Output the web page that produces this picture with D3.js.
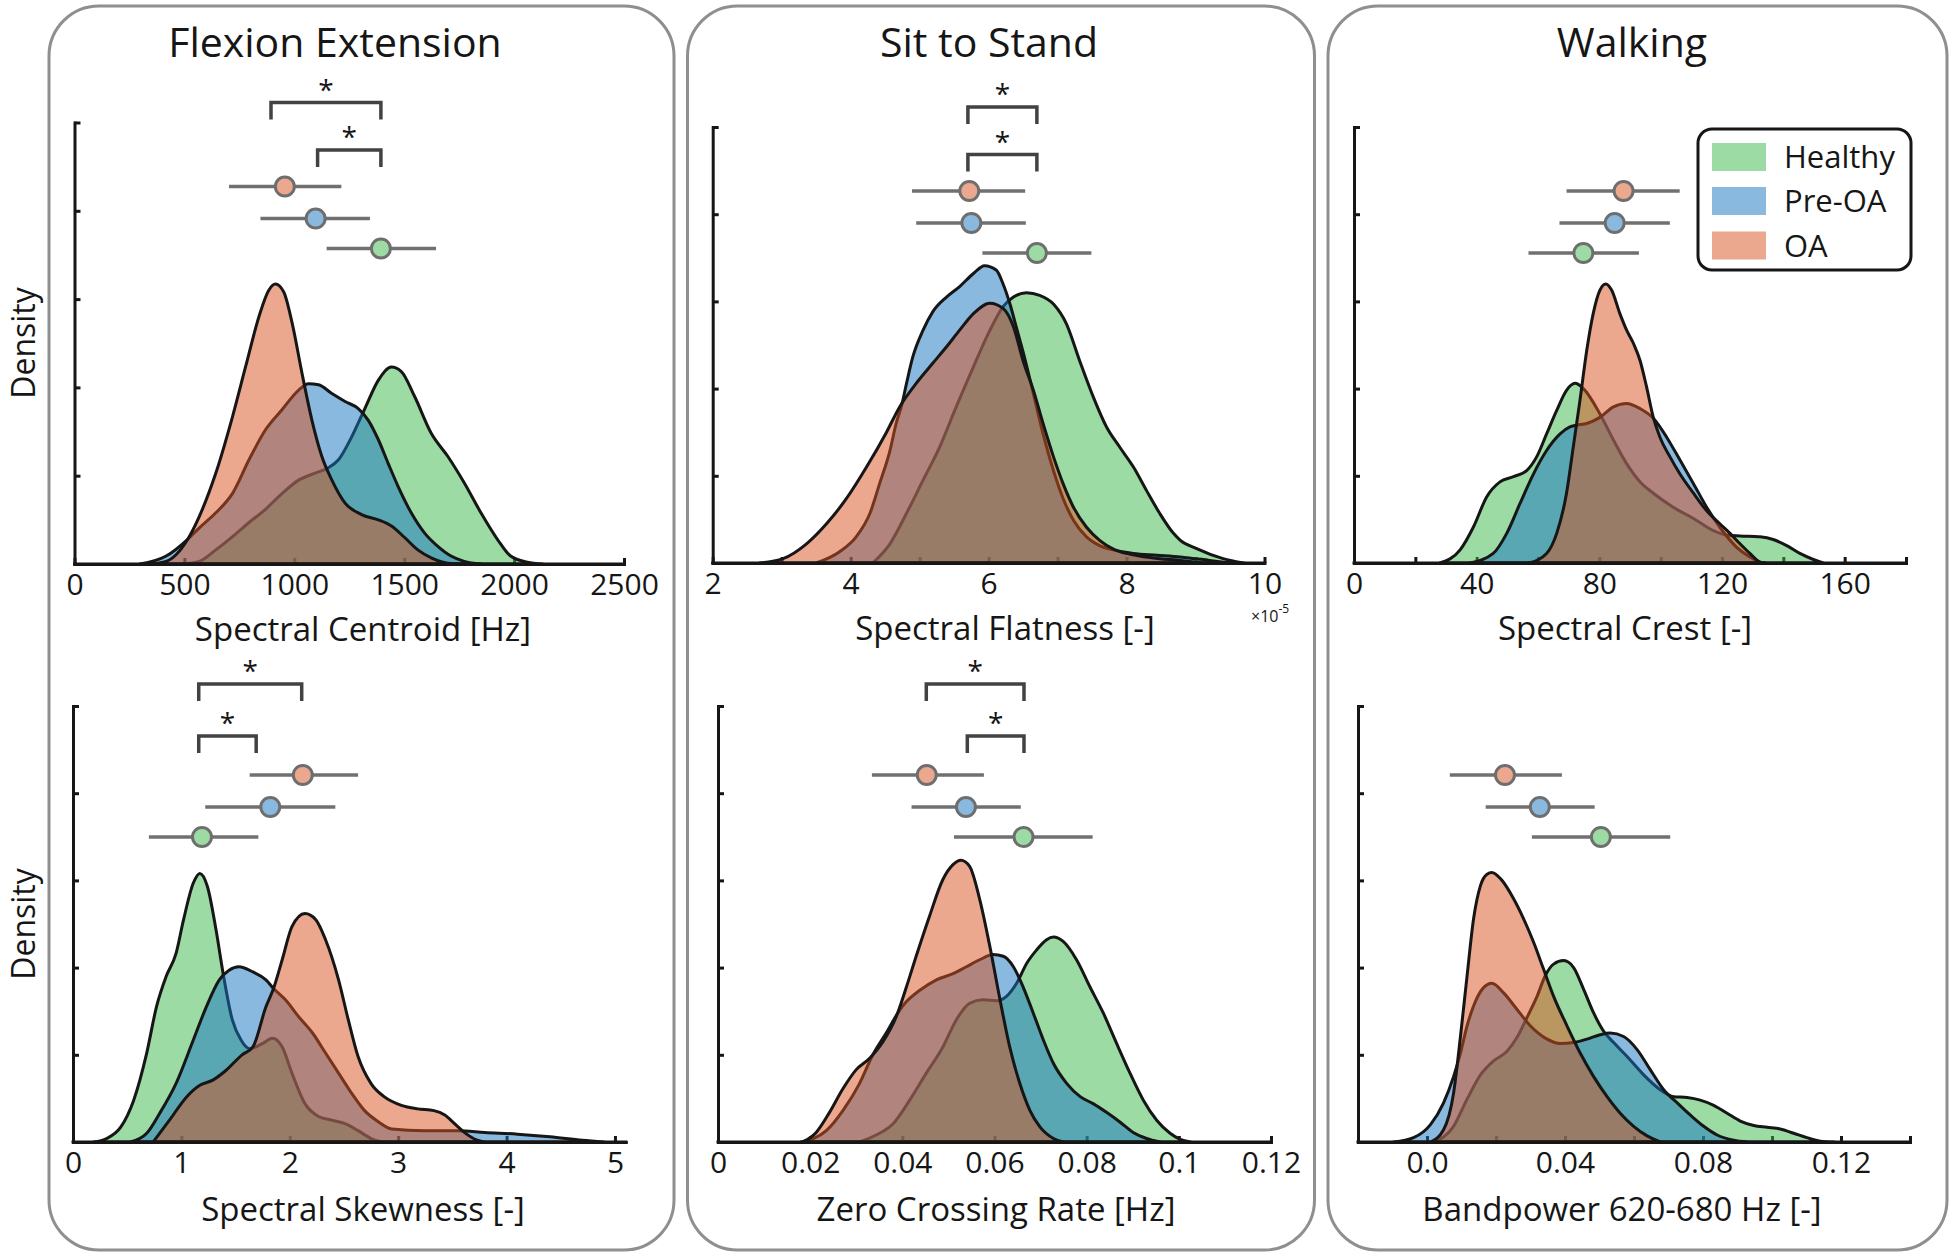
<!DOCTYPE html>
<html><head><meta charset="utf-8">
<script src="https://cdn.jsdelivr.net/npm/d3@7"></script>
<style>body{margin:0;background:#fff;} svg{display:block;font-family:"Open Sans",sans-serif;}</style>
</head><body><svg id="chart" width="1950" height="1259"></svg>
<script>
// ---------------- DATA ----------------
const groups = ["Healthy", "Pre-OA", "OA"];
const activities = ["Flexion Extension", "Sit to Stand", "Walking"];
const featureLabels = ["Spectral Centroid [Hz]", "Spectral Flatness [-]", "Spectral Crest [-]",
                       "Spectral Skewness [-]", "Zero Crossing Rate [Hz]", "Bandpower 620-680 Hz [-]"];

// x domains and ticks
const centroidDomain = [0, 2500];
const centroidTicks = [0, 500, 1000, 1500, 2000, 2500];
const centroidTickLabels = ["0", "500", "1000", "1500", "2000", "2500"];
const flatnessDomain = [2, 10];
const flatnessTicks = [2, 3, 4, 5, 6, 7, 8, 9, 10];
const flatnessTickLabels = ["2", "", "4", "", "6", "", "8", "", "10"];
const crestDomain = [0, 180];
const crestTicks = [0, 20, 40, 60, 80, 100, 120, 140, 160, 180];
const crestTickLabels = ["0", "", "40", "", "80", "", "120", "", "160", ""];
const skewDomain = [0, 5.1];
const skewTicks = [0, 1, 2, 3, 4, 5];
const skewTickLabels = ["0", "1", "2", "3", "4", "5"];
const zcrDomain = [0, 0.12];
const zcrTicks = [0, 0.02, 0.04, 0.06, 0.08, 0.1, 0.12];
const zcrTickLabels = ["0", "0.02", "0.04", "0.06", "0.08", "0.1", "0.12"];
const bandDomain = [-0.02, 0.14];
const bandTicks = [-0.02, 0, 0.02, 0.04, 0.06, 0.08, 0.1, 0.12, 0.14];
const bandTickLabels = ["", "0.0", "", "0.04", "", "0.08", "", "0.12", ""];
const densityTicks = [0, 1, 2, 3, 4, 5];

// density curves [x, density]
const centroidHealthy = [[492,0],[568,0.03],[643,0.16],[719,0.31],[794,0.47],[869,0.62],[945,0.80],[1020,0.95],[1095,1.03],[1155,1.09],[1201,1.18],[1261,1.44],[1321,1.76],[1382,2.08],[1442,2.23],[1487,2.18],[1547,1.90],[1623,1.48],[1698,1.22],[1773,0.92],[1849,0.58],[1924,0.28],[1984,0.09],[2060,0.02],[2130,0]];
const centroidPreOA = [[297,0],[417,0.09],[515,0.28],[568,0.41],[643,0.58],[719,0.80],[794,1.18],[869,1.52],[945,1.75],[1020,1.97],[1065,2.04],[1110,2.03],[1171,1.93],[1231,1.84],[1291,1.76],[1336,1.63],[1382,1.41],[1427,1.14],[1472,0.88],[1532,0.58],[1593,0.35],[1653,0.20],[1713,0.09],[1773,0.03],[1849,0]];
const centroidOA = [[342,0],[417,0.03],[515,0.28],[568,0.54],[643,1.03],[719,1.67],[779,2.24],[839,2.80],[884,3.10],[914,3.17],[952,3.08],[990,2.73],[1035,2.16],[1080,1.63],[1125,1.22],[1171,0.95],[1231,0.69],[1306,0.56],[1382,0.50],[1442,0.43],[1502,0.30],[1562,0.16],[1623,0.07],[1698,0.01],[1773,0]];

const flatnessHealthy = [[4.32,0],[4.57,0.22],[4.81,0.57],[5.05,0.95],[5.29,1.33],[5.53,1.79],[5.78,2.25],[6.02,2.67],[6.21,2.94],[6.36,3.05],[6.55,3.10],[6.74,3.07],[6.94,2.97],[7.13,2.74],[7.32,2.32],[7.52,1.90],[7.71,1.56],[7.90,1.33],[8.10,1.10],[8.29,0.83],[8.48,0.57],[8.68,0.34],[8.78,0.26],[9.0,0.17],[9.4,0.05],[9.7,0]];
const flatnessPreOA = [[3.50,0],[3.84,0.13],[4.08,0.30],[4.28,0.57],[4.42,0.91],[4.57,1.29],[4.66,1.60],[4.74,1.81],[4.81,2.06],[4.90,2.36],[5.05,2.67],[5.19,2.88],[5.39,3.05],[5.58,3.17],[5.78,3.32],[5.94,3.41],[6.11,3.36],[6.21,3.20],[6.31,2.97],[6.40,2.71],[6.50,2.42],[6.65,1.94],[6.79,1.48],[6.94,1.06],[7.08,0.74],[7.23,0.49],[7.42,0.30],[7.61,0.20],[7.81,0.15],[8.10,0.11],[8.44,0.09],[8.78,0.07],[9.2,0.03],[9.5,0]];
const flatnessOA = [[2.68,0],[3.02,0.05],[3.36,0.22],[3.65,0.45],[3.94,0.74],[4.23,1.10],[4.52,1.50],[4.71,1.79],[4.95,2.06],[5.19,2.29],[5.39,2.48],[5.58,2.67],[5.78,2.86],[6.02,2.98],[6.21,2.92],[6.36,2.71],[6.50,2.32],[6.65,1.98],[6.79,1.60],[6.94,1.22],[7.08,0.91],[7.23,0.64],[7.42,0.41],[7.61,0.26],[7.81,0.16],[8.00,0.11],[8.19,0.08],[8.48,0.05],[8.78,0.03],[9.1,0]];

const crestHealthy = [[28,0],[34.6,0.15],[38.9,0.41],[43.3,0.76],[47.6,0.93],[52.0,0.99],[56.3,1.06],[59.6,1.22],[62.8,1.48],[66.1,1.75],[69.3,1.98],[72.1,2.06],[74.8,2.00],[80.2,1.71],[84.6,1.41],[88.9,1.14],[93.3,0.93],[97.6,0.80],[104.1,0.64],[110.7,0.51],[117.2,0.37],[121.5,0.32],[125.9,0.31],[132.4,0.30],[136.7,0.27],[141.1,0.20],[145.4,0.11],[149.8,0.04],[153,0]];
const crestPreOA = [[37.8,0],[45.4,0.11],[49.8,0.34],[54.1,0.68],[58.5,1.02],[62.8,1.29],[67.2,1.48],[70.4,1.56],[72.6,1.58],[75.9,1.60],[80.2,1.67],[84.6,1.79],[88.9,1.83],[93.3,1.77],[97.6,1.66],[102.0,1.44],[106.3,1.18],[110.7,0.91],[115.0,0.64],[119.3,0.41],[124.8,0.18],[129.1,0.07],[132.4,0.01],[134,0]];
const crestOA = [[57,0],[62.8,0.11],[66.1,0.34],[69.3,0.80],[71.5,1.33],[73.7,1.87],[75.9,2.44],[78.0,2.86],[80.2,3.13],[82.1,3.20],[84.0,3.13],[86.7,2.86],[88.9,2.67],[91.1,2.52],[93.3,2.32],[95.4,2.02],[97.6,1.67],[99.8,1.44],[103.0,1.22],[106.3,1.02],[110.7,0.80],[115.0,0.60],[119.3,0.45],[122.6,0.34],[125.9,0.22],[129.1,0.11],[132.4,0.01],[134,0]];

const skewHealthy = [[0.19,0],[0.31,0.04],[0.44,0.17],[0.56,0.48],[0.68,1.02],[0.77,1.55],[0.86,1.90],[0.95,2.16],[1.02,2.55],[1.11,2.97],[1.17,3.08],[1.24,2.93],[1.32,2.43],[1.38,1.97],[1.47,1.40],[1.55,1.17],[1.63,1.07],[1.75,1.13],[1.84,1.19],[1.93,1.09],[2.02,0.79],[2.14,0.44],[2.27,0.29],[2.39,0.25],[2.51,0.21],[2.63,0.13],[2.75,0.04],[2.85,0]];
const skewPreOA = [[0.53,0],[0.68,0.10],[0.80,0.33],[0.95,0.67],[1.11,1.17],[1.23,1.55],[1.35,1.86],[1.44,1.97],[1.53,2.01],[1.66,1.95],[1.78,1.86],[1.85,1.76],[1.96,1.63],[2.08,1.44],[2.21,1.25],[2.33,1.02],[2.45,0.79],[2.57,0.56],[2.69,0.36],[2.82,0.23],[2.94,0.15],[3.24,0.13],[3.55,0.13],[3.8,0.11],[4.1,0.09],[4.4,0.06],[4.7,0.02],[4.9,0]];
const skewOA = [[0.74,0],[0.89,0.25],[1.05,0.52],[1.17,0.65],[1.29,0.71],[1.41,0.82],[1.56,1.00],[1.66,1.09],[1.78,1.55],[1.85,1.76],[1.93,2.09],[2.02,2.47],[2.14,2.62],[2.24,2.55],[2.33,2.32],[2.45,1.86],[2.54,1.40],[2.63,0.98],[2.75,0.67],[2.87,0.52],[3.03,0.42],[3.18,0.38],[3.33,0.36],[3.43,0.31],[3.52,0.21],[3.61,0.11],[3.73,0.02],[3.79,0]];

const zcrHealthy = [[0.0307,0],[0.0343,0.08],[0.0380,0.21],[0.0416,0.48],[0.0452,0.79],[0.0488,1.09],[0.0517,1.40],[0.0546,1.59],[0.0575,1.63],[0.0604,1.62],[0.0626,1.67],[0.0648,1.82],[0.0670,2.05],[0.0691,2.20],[0.0713,2.32],[0.0728,2.35],[0.0749,2.30],[0.0778,2.09],[0.0807,1.78],[0.0836,1.48],[0.0865,1.13],[0.0894,0.79],[0.0923,0.48],[0.0952,0.25],[0.0981,0.10],[0.1003,0.03],[0.1025,0]];
const zcrPreOA = [[0.0180,0],[0.0235,0.13],[0.0271,0.36],[0.0307,0.67],[0.0336,1.00],[0.0365,1.25],[0.0394,1.51],[0.0409,1.61],[0.0438,1.74],[0.0474,1.86],[0.0510,1.93],[0.0539,2.01],[0.0568,2.09],[0.0597,2.15],[0.0619,2.13],[0.0641,2.01],[0.0662,1.78],[0.0684,1.48],[0.0706,1.17],[0.0728,0.90],[0.0757,0.67],[0.0786,0.52],[0.0814,0.44],[0.0843,0.34],[0.0872,0.23],[0.0901,0.11],[0.0930,0.04],[0.0959,0]];
const zcrOA = [[0.0184,0],[0.0213,0.11],[0.0242,0.34],[0.0271,0.61],[0.0300,0.83],[0.0329,0.96],[0.0358,1.15],[0.0387,1.44],[0.0409,1.78],[0.0430,2.13],[0.0459,2.59],[0.0488,3.01],[0.0510,3.18],[0.0527,3.23],[0.0546,3.16],[0.0568,2.78],[0.0590,2.24],[0.0612,1.63],[0.0633,1.09],[0.0655,0.67],[0.0677,0.36],[0.0699,0.17],[0.0728,0.04],[0.0749,0]];

const bandHealthy = [[0.0019,0],[0.0077,0.18],[0.0116,0.49],[0.0155,0.77],[0.0193,0.93],[0.0232,1.04],[0.0261,1.20],[0.0290,1.43],[0.0319,1.67],[0.0343,1.91],[0.0367,2.04],[0.0396,2.08],[0.0425,2.00],[0.0454,1.75],[0.0483,1.48],[0.0512,1.27],[0.0541,1.14],[0.0580,0.98],[0.0628,0.77],[0.0676,0.60],[0.0715,0.52],[0.0754,0.51],[0.0792,0.48],[0.0831,0.42],[0.0870,0.33],[0.0908,0.24],[0.0947,0.19],[0.0986,0.17],[0.1024,0.15],[0.1063,0.10],[0.1101,0.05],[0.1140,0.01],[0.1180,0]];
const bandPreOA = [[-0.0097,0],[-0.0039,0.05],[0.0010,0.20],[0.0048,0.45],[0.0077,0.75],[0.0097,1.02],[0.0116,1.33],[0.0135,1.56],[0.0164,1.77],[0.0188,1.82],[0.0222,1.71],[0.0261,1.52],[0.0300,1.33],[0.0348,1.18],[0.0386,1.13],[0.0425,1.14],[0.0464,1.18],[0.0502,1.23],[0.0531,1.25],[0.0570,1.21],[0.0609,1.06],[0.0647,0.83],[0.0686,0.60],[0.0725,0.45],[0.0763,0.31],[0.0802,0.18],[0.0841,0.08],[0.0889,0.02],[0.0928,0]];
const bandOA = [[0.0010,0],[0.0048,0.14],[0.0077,0.56],[0.0097,1.21],[0.0116,1.90],[0.0135,2.56],[0.0155,2.94],[0.0174,3.07],[0.0188,3.09],[0.0213,3.02],[0.0251,2.79],[0.0280,2.56],[0.0309,2.29],[0.0338,1.98],[0.0367,1.67],[0.0406,1.33],[0.0444,1.02],[0.0483,0.75],[0.0522,0.52],[0.0560,0.33],[0.0599,0.18],[0.0638,0.07],[0.0676,0]];

// mean and mean±SD per group, order: Healthy, Pre-OA, OA
const centroidMean = [1394, 1097, 957];
const centroidRange = [[1147, 1645], [846, 1344], [703, 1214]];
const flatnessMean = [6.70, 5.75, 5.72];
const flatnessRange = [[5.91, 7.49], [4.95, 6.54], [4.89, 6.53]];
const crestMean = [74.8, 85.0, 87.9];
const crestRange = [[56.9, 92.9], [67.0, 103.0], [69.3, 106.2]];
const skewMean = [1.19, 1.82, 2.12];
const skewRange = [[0.70, 1.71], [1.22, 2.42], [1.63, 2.63]];
const zcrMean = [0.0663, 0.0538, 0.0453];
const zcrRange = [[0.0512, 0.0813], [0.0420, 0.0657], [0.0334, 0.0577]];
const bandMean = [0.0504, 0.0327, 0.0226];
const bandRange = [[0.0304, 0.0705], [0.0170, 0.0486], [0.0066, 0.0391]];

// significance brackets [from, to] (upper, lower)
const centroidBrackets = [[894, 1394], [1106, 1394]];
const flatnessBrackets = [[5.70, 6.70], [5.70, 6.70]];
const crestBrackets = [];
const skewBrackets = [[1.16, 2.11], [1.16, 1.69]];
const zcrBrackets = [[0.0452, 0.0664], [0.0541, 0.0664]];
const bandBrackets = [];

// ---------------- STYLE / LAYOUT ----------------
const fillColors = ["rgb(57,183,73)", "rgb(21,115,191)", "rgb(215,81,29)"];
const solidColors = ["#9cdba4", "#8ab9df", "#eba88e"];
const ink = "#161616";

const panels = [
  {dens:[centroidHealthy, centroidPreOA, centroidOA], domain:centroidDomain, ticks:centroidTicks, tl:centroidTickLabels, mean:centroidMean, range:centroidRange, br:centroidBrackets,
   x0:74.5, x1:624, yTop:122.5, yBase:564, row:0, labelX:363},
  {dens:[flatnessHealthy, flatnessPreOA, flatnessOA], domain:flatnessDomain, ticks:flatnessTicks, tl:flatnessTickLabels, mean:flatnessMean, range:flatnessRange, br:flatnessBrackets,
   x0:712.7, x1:1264.5, yTop:127, yBase:563, row:0, labelX:1005},
  {dens:[crestHealthy, crestPreOA, crestOA], domain:crestDomain, ticks:crestTicks, tl:crestTickLabels, mean:crestMean, range:crestRange, br:crestBrackets,
   x0:1354, x1:1906, yTop:127, yBase:563, row:0, labelX:1625},
  {dens:[skewHealthy, skewPreOA, skewOA], domain:skewDomain, ticks:skewTicks, tl:skewTickLabels, mean:skewMean, range:skewRange, br:skewBrackets,
   x0:73, x1:625.8, yTop:706, yBase:1142, row:1, labelX:363},
  {dens:[zcrHealthy, zcrPreOA, zcrOA], domain:zcrDomain, ticks:zcrTicks, tl:zcrTickLabels, mean:zcrMean, range:zcrRange, br:zcrBrackets,
   x0:718, x1:1271, yTop:706, yBase:1142, row:1, labelX:996},
  {dens:[bandHealthy, bandPreOA, bandOA], domain:bandDomain, ticks:bandTicks, tl:bandTickLabels, mean:bandMean, range:bandRange, br:bandBrackets,
   x0:1358, x1:1910, yTop:706, yBase:1142, row:1, labelX:1622}
];
const markerOffsets = [[126, 96, 64], [131, 101, 69]];   // Healthy, Pre-OA, OA rows (px below axis top)
const bracketOffsets = [[-20, 27.5], [-22, 30]];
const labelBaseline = [77, 79];

const svg = d3.select("#chart");

// panel frames
const frames = [{x:49, w:625}, {x:687.5, w:627}, {x:1328, w:619}];
frames.forEach(f => svg.append("rect").attr("x", f.x).attr("y", 6).attr("width", f.w).attr("height", 1244)
  .attr("rx", 50).attr("fill", "none").attr("stroke", "#8f8f8f").attr("stroke-width", 3));

// titles
const titleX = [335, 989, 1632];
activities.forEach((t, i) => svg.append("text").attr("x", titleX[i]).attr("y", 57).attr("text-anchor", "middle")
  .attr("font-size", 41).attr("fill", ink).text(t));

// Density labels
[343, 924].forEach(cy => svg.append("text").attr("transform", `translate(35,${cy}) rotate(-90)`)
  .attr("text-anchor", "middle").attr("font-size", 32).attr("fill", ink).text("Density"));

panels.forEach((p, pi) => {
  const x = d3.scaleLinear().domain(p.domain).range([p.x0, p.x1]);
  const y = d3.scaleLinear().domain([0, 5]).range([p.yBase, p.yTop]);
  const g = svg.append("g");

  // axes (below fills)
  const xa = g.append("g").attr("transform", `translate(0,${p.yBase})`)
    .call(d3.axisBottom(x).tickValues(p.ticks).tickFormat((d, i) => p.tl[i]).tickSizeInner(-6).tickSizeOuter(0).tickPadding(10));
  const ya = g.append("g").attr("transform", `translate(${p.x0},0)`)
    .call(d3.axisLeft(y).tickValues(densityTicks).tickFormat("").tickSizeInner(-6).tickSizeOuter(0));
  [xa, ya].forEach(a => {
    a.selectAll("path.domain").attr("stroke", ink).attr("stroke-width", 3).attr("stroke-linecap", "square");
    a.selectAll(".tick line").attr("stroke", ink).attr("stroke-width", 3);
  });
  xa.selectAll(".tick text").attr("font-size", 30).attr("fill", ink).attr("font-family", '"Open Sans",sans-serif');

  // densities
  const area = d3.area().x(d => x(d[0])).y0(y(0)).y1(d => y(d[1])).curve(d3.curveMonotoneX);
  p.dens.forEach((dd, gi) => {
    g.append("path").datum(dd).attr("d", area)
      .attr("fill", fillColors[gi]).attr("fill-opacity", 0.5)
      .attr("stroke", ink).attr("stroke-width", 3).attr("stroke-linejoin", "round");
  });
  // redraw baseline on top
  g.append("line").attr("x1", p.x0).attr("x2", p.x1).attr("y1", p.yBase).attr("y2", p.yBase)
    .attr("stroke", ink).attr("stroke-width", 3).attr("stroke-linecap", "square");

  // error bars
  const mo = markerOffsets[p.row];
  groups.forEach((gname, gi) => {
    const cy = p.yTop + mo[gi];
    g.append("line").attr("x1", x(p.range[gi][0])).attr("x2", x(p.range[gi][1])).attr("y1", cy).attr("y2", cy)
      .attr("stroke", "#707070").attr("stroke-width", 3.5);
    g.append("circle").attr("cx", x(p.mean[gi])).attr("cy", cy).attr("r", 9.5)
      .attr("fill", solidColors[gi]).attr("stroke", "#6e6e6e").attr("stroke-width", 3);
  });

  // brackets
  p.br.forEach((b, bi) => {
    const by = p.yTop + bracketOffsets[p.row][bi];
    const xa1 = x(b[0]), xa2 = x(b[1]);
    g.append("path").attr("d", `M${xa1},${by + 17}V${by}H${xa2}V${by + 17}`)
      .attr("fill", "none").attr("stroke", "#424242").attr("stroke-width", 3.5);
    g.append("text").attr("x", (xa1 + xa2) / 2).attr("y", by - 3).attr("text-anchor", "middle")
      .attr("font-size", 28).attr("fill", ink).text("*");
  });

  // axis label
  svg.append("text").attr("x", p.labelX).attr("y", p.yBase + labelBaseline[p.row]).attr("text-anchor", "middle")
    .attr("font-size", 33).attr("fill", ink).text(featureLabels[pi]);
});

// x10^-5 exponent label for flatness
const expT = svg.append("text").attr("x", 1251).attr("y", 622).attr("font-size", 16).attr("fill", ink);
expT.append("tspan").text("\u00d710");
expT.append("tspan").attr("dy", -9).attr("font-size", 12).text("-5");

// legend
const lg = svg.append("g");
lg.append("rect").attr("x", 1698).attr("y", 129).attr("width", 213).attr("height", 141).attr("rx", 14)
  .attr("fill", "#fff").attr("stroke", ink).attr("stroke-width", 3);
const legendY = [157, 201, 245.5];
groups.forEach((gname, gi) => {
  lg.append("rect").attr("x", 1712).attr("y", legendY[gi] - 14).attr("width", 54).attr("height", 28)
    .attr("fill", fillColors[gi]).attr("fill-opacity", 0.5);
  lg.append("text").attr("x", 1784).attr("y", legendY[gi]).attr("dy", "0.36em")
    .attr("font-size", 31).attr("fill", ink).text(gname);
});
</script>
</body></html>
